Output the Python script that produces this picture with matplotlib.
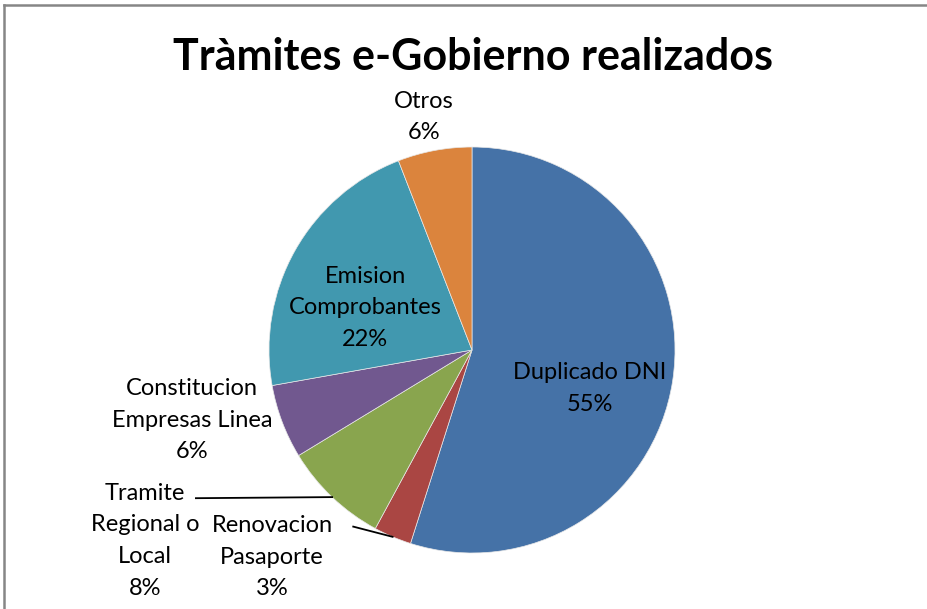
import matplotlib.pyplot as plt
import numpy as np
from matplotlib.lines import Line2D

plt.rcParams["font.family"] = ["Lato", "DejaVu Sans"]

title = "Tràmites e-Gobierno realizados"
categories = [
    "Duplicado DNI",
    "Renovacion\nPasaporte",
    "Tramite\nRegional o\nLocal",
    "Constitucion\nEmpresas Linea",
    "Emision\nComprobantes",
    "Otros",
]
values = [54.9, 3.0, 8.4, 5.9, 21.9, 5.9]
colors = ["#4572A7", "#AA4643", "#89A54E", "#71588F", "#4198AF", "#DB843D"]

# label placement (pie radius units) and whether a leader line is drawn
label_pos = [(0.58, -0.19), (-0.985, -1.02), (-1.61, -0.94),
             (-1.38, -0.345), (-0.527, 0.207), (-0.236, 1.148)]
leader = [False, True, True, False, False, False]

fig = plt.figure(figsize=(9.27, 6.09), dpi=100)
ax = fig.add_axes([(472 - 203) / 927, 1 - (350 + 203) / 609,
                   406 / 927, 406 / 609])

wedges, _ = ax.pie(values, colors=colors, startangle=90, counterclock=False,
                   radius=1, wedgeprops=dict(edgecolor="#e8e8e8", linewidth=0.5))
ax.set_xlim(-1, 1)
ax.set_ylim(-1, 1)
ax.set_aspect("equal")

total = sum(values)
for w, name, v, (lx, ly), ld in zip(wedges, categories, values, label_pos, leader):
    txt = f"{name}\n{round(v / total * 100):.0f}%"
    ax.text(lx, ly, txt, ha="center", va="center", fontsize=17,
            linespacing=1.63, clip_on=False)
    if ld:
        mid = np.deg2rad((w.theta1 + w.theta2) / 2)
        px, py = np.cos(mid), np.sin(mid)
        first = name.split("\n")[0]
        if first == "Tramite":
            sx, sy = -1.36, -0.73
        else:
            sx, sy = -0.585, -0.87
        ax.plot([sx, px], [sy, py], color="black", lw=1.3, clip_on=False)

fig.text(473 / 927, 1 - 57 / 609, title, ha="center", va="center",
         fontsize=31, fontweight="bold")

fig.add_artist(Line2D([3.5 / 927, 3.5 / 927], [0, 1 - 4.5 / 609],
                      transform=fig.transFigure, color="#868686", lw=1.8))
fig.add_artist(Line2D([3.5 / 927, 1], [1 - 4.5 / 609, 1 - 4.5 / 609],
                      transform=fig.transFigure, color="#868686", lw=1.8))

fig.savefig("out.png", dpi=100)
